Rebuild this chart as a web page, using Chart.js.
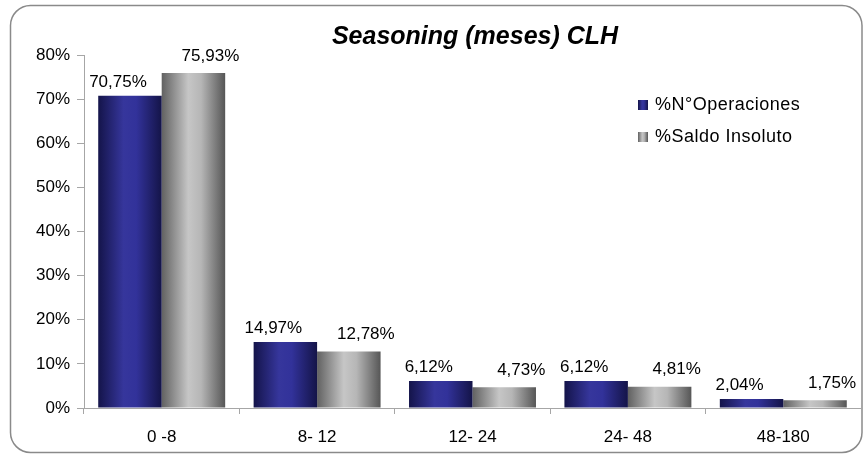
<!DOCTYPE html>
<html><head><meta charset="utf-8">
<script src="https://cdn.jsdelivr.net/npm/chart.js@4/dist/chart.umd.min.js"></script>
<style>html,body{margin:0;padding:0;background:#fff}#wrap{width:863px;height:455px;position:relative}</style>
</head><body><div id="wrap"><canvas id="c" width="863" height="455"></canvas></div>
<script>
const categories = ['0 -8', '8- 12', '12- 24', '24- 48', '48-180'];
const seriesNames = ['%N°Operaciones', '%Saldo Insoluto'];
const operaciones = [70.75, 14.97, 6.12, 6.12, 2.04];
const saldo = [75.93, 12.78, 4.73, 4.81, 1.75];
const yTicks = [0, 10, 20, 30, 40, 50, 60, 70, 80];
const titleText = 'Seasoning (meses) CLH';

const FONT = '"Liberation Sans", Arial, Helvetica, sans-serif';
const CAT_PCT = 0.817;
const blueStops = [[0, '#14144a'], [0.4, '#36369c'], [0.6, '#32329a'], [1, '#141448']];
const greyStops = [[0, '#616161'], [0.42, '#c6c6c6'], [0.62, '#b6b6b6'], [1, '#565656']];

function grad(ctx, x0, x1, stops) {
  const g = ctx.createLinearGradient(x0, 0, x1, 0);
  stops.forEach(s => g.addColorStop(s[0], s[1]));
  return g;
}
function barBg(stops, side) {
  return function (c) {
    const chart = c.chart, area = chart.chartArea;
    if (!area || c.dataIndex === undefined || !chart.scales.x) return stops[1][1];
    const cw = (area.right - area.left) / categories.length;
    const bw = cw * CAT_PCT / 2;
    const cx = chart.scales.x.getPixelForValue(c.dataIndex);
    const x0 = side < 0 ? cx - bw : cx;
    return grad(chart.ctx, x0, x0 + bw, stops);
  };
}

const decorPlugin = {
  id: 'decor',
  beforeDraw(chart) {
    const ctx = chart.ctx;
    ctx.save();
    ctx.strokeStyle = '#8a8a8a';
    ctx.lineWidth = 1.5;
    const x = 10.5, y = 5.5, w = 851.5, h = 447, r = 20;
    ctx.beginPath();
    ctx.moveTo(x + r, y);
    ctx.lineTo(x + w - r, y);
    ctx.arcTo(x + w, y, x + w, y + r, r);
    ctx.lineTo(x + w, y + h - r);
    ctx.arcTo(x + w, y + h, x + w - r, y + h, r);
    ctx.lineTo(x + r, y + h);
    ctx.arcTo(x, y + h, x, y + h - r, r);
    ctx.lineTo(x, y + r);
    ctx.arcTo(x, y, x + r, y, r);
    ctx.closePath();
    ctx.stroke();
    // title
    ctx.fillStyle = '#000';
    ctx.font = 'italic bold 25px ' + FONT;
    ctx.textAlign = 'center';
    ctx.textBaseline = 'middle';
    ctx.fillText(titleText, 475, 37);
    ctx.restore();
  },
  afterDatasetsDraw(chart) {
    const ctx = chart.ctx;
    ctx.save();
    ctx.fillStyle = '#000';
    ctx.font = '17px ' + FONT;
    ctx.textAlign = 'center';
    ctx.textBaseline = 'middle';
    chart.data.datasets.forEach((ds, di) => {
      const meta = chart.getDatasetMeta(di);
      const off = ds.labelOffset;
      meta.data.forEach((el, i) => {
        const txt = ds.data[i].toFixed(2).replace('.', ',') + '%';
        ctx.fillText(txt, el.x + off[0], el.y + off[1]);
      });
    });
    // legend
    ctx.textAlign = 'left';
    ctx.font = '18px ' + FONT;
    if ('letterSpacing' in ctx) ctx.letterSpacing = '0.5px';
    chart.data.datasets.forEach((ds, di) => {
      const ly = 105 + di * 32;
      ctx.fillStyle = grad(ctx, 638, 648, ds.legendStops);
      ctx.fillRect(638, ly - 5, 10, 10);
      ctx.fillStyle = '#000';
      ctx.fillText(ds.label, 655, ly);
    });
    ctx.restore();
  }
};

new Chart(document.getElementById('c'), {
  type: 'bar',
  data: {
    labels: categories,
    datasets: [
      { label: seriesNames[0], data: operaciones, backgroundColor: barBg(blueStops, -1),
        legendStops: blueStops, labelOffset: [-12, -14], borderWidth: 0 },
      { label: seriesNames[1], data: saldo, backgroundColor: barBg(greyStops, 1),
        legendStops: greyStops, labelOffset: [17, -17], borderWidth: 0 }
    ]
  },
  options: {
    responsive: false,
    animation: false,
    events: [],
    devicePixelRatio: 1,
    layout: { padding: { top: 55, left: 0, right: 2, bottom: 0 } },
    datasets: { bar: { categoryPercentage: CAT_PCT, barPercentage: 1.0 } },
    plugins: { legend: { display: false }, title: { display: false }, tooltip: { enabled: false } },
    scales: {
      x: {
        offset: true,
        grid: { display: true, drawOnChartArea: false, offset: true, color: '#a6a6a6', tickLength: 6 },
        border: { display: true, color: '#a6a6a6' },
        ticks: { color: '#000', font: { size: 17, family: FONT }, padding: 13, maxRotation: 0, autoSkip: false },
        afterFit(s) { s.height = 47; }
      },
      y: {
        min: 0, max: 80,
        afterBuildTicks(s) { s.ticks = yTicks.map(v => ({ value: v })); },
        grid: { display: true, drawOnChartArea: false, color: '#a6a6a6', tickLength: 7 },
        border: { display: true, color: '#a6a6a6' },
        ticks: { color: '#000', font: { size: 17, family: FONT }, padding: 7, callback: v => v + '%' },
        afterFit(s) { s.width = 84; }
      }
    }
  },
  plugins: [decorPlugin]
});
</script>
</body></html>
